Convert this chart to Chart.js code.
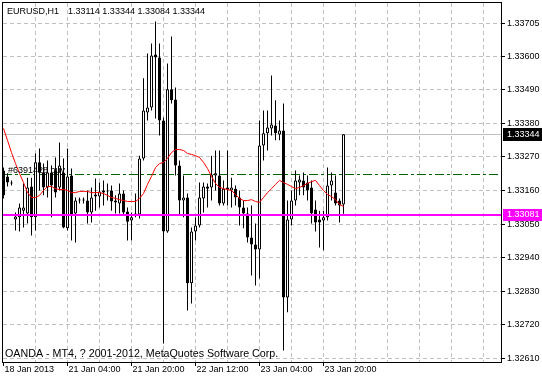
<!DOCTYPE html>
<html><head><meta charset="utf-8">
<script src="https://cdn.jsdelivr.net/npm/chart.js@4.4.1/dist/chart.umd.min.js"></script>
<style>html,body{margin:0;padding:0;background:#fff}canvas{display:block}</style>
</head><body>
<canvas id="c" width="542" height="379"></canvas>
<script>
const symbolText = 'EURUSD,H1';
const lastBarText = '1.33114 1.33344 1.33084 1.33344';
const footerText = 'OANDA - MT4, ? 2001-2012, MetaQuotes Software Corp.';
const orderLabel = '#6391428 buy';

const openP = [
1.33225,1.33206,1.33186,1.33065,1.33072,1.33094,1.33085,1.33173,1.33072,1.33252,
1.33219,1.33170,1.33219,1.33225,1.33170,1.33219,1.33036,1.33209,1.33085,1.33127,
1.33127,1.33127,1.33088,1.33147,1.33140,1.33160,1.33157,1.33160,1.33127,1.33117,
1.33150,1.33091,1.33062,1.33078,1.33081,1.33265,1.33415,1.33432,1.33605,1.33595,
1.33389,1.33026,1.33491,1.33458,1.33242,1.33127,1.33137,1.32856,1.33026,1.33045,
1.33134,1.33173,1.33170,1.33209,1.33209,1.33117,1.33170,1.33160,1.33166,1.33137,
1.33104,1.33085,1.33006,1.32983,1.32967,1.33307,1.33347,1.33363,1.33373,1.33343,
1.33356,1.32810,1.33065,1.33127,1.33186,1.33193,1.33186,1.33170,1.33098,1.33065,
1.33062,1.33072,1.33176,1.33153,1.33127,1.33114];
const highP = [
1.33235,1.33216,1.33193,1.33088,1.33117,1.33183,1.33202,1.33202,1.33281,1.33297,
1.33248,1.33258,1.33242,1.33268,1.33317,1.33265,1.33297,1.33232,1.33137,1.33137,
1.33137,1.33160,1.33170,1.33199,1.33186,1.33193,1.33183,1.33176,1.33144,1.33183,
1.33160,1.33104,1.33088,1.33150,1.33274,1.33527,1.33608,1.33641,1.33713,1.33641,
1.33399,1.33576,1.33664,1.33497,1.33258,1.33209,1.33150,1.33039,1.33072,1.33186,
1.33186,1.33183,1.33274,1.33291,1.33291,1.33193,1.33291,1.33202,1.33176,1.33160,
1.33127,1.33104,1.33111,1.33052,1.33389,1.33422,1.33422,1.33536,1.33455,1.33389,
1.33445,1.33127,1.33160,1.33225,1.33209,1.33219,1.33209,1.33193,1.33127,1.33094,
1.33094,1.33235,1.33219,1.33209,1.33134,1.33344];
const lowP = [
1.33134,1.33173,1.33176,1.33029,1.33026,1.33039,1.33052,1.33013,1.33029,1.33160,
1.33144,1.33137,1.33072,1.33137,1.33160,1.33036,1.33029,1.32996,1.32990,1.33117,
1.33117,1.33052,1.33055,1.33094,1.33104,1.33111,1.33127,1.33094,1.33085,1.33085,
1.33078,1.32996,1.32996,1.33072,1.33068,1.33258,1.33389,1.33422,1.33396,1.33340,
1.32659,1.33022,1.33445,1.33209,1.33078,1.33072,1.32767,1.32790,1.32996,1.33039,
1.33088,1.33104,1.33127,1.33160,1.33111,1.33111,1.33111,1.33104,1.33111,1.33045,
1.33036,1.32990,1.32882,1.32849,1.32872,1.33258,1.33291,1.33340,1.33324,1.33324,
1.32636,1.32761,1.33045,1.33111,1.33144,1.33144,1.33127,1.33052,1.33026,1.32973,
1.32964,1.33062,1.33127,1.33111,1.33055,1.33084];
const closeP = [
1.33144,1.33186,1.33183,1.33075,1.33104,1.33104,1.33170,1.33072,1.33252,1.33219,
1.33170,1.33219,1.33176,1.33153,1.33242,1.33039,1.33206,1.33081,1.33127,1.33127,
1.33127,1.33088,1.33137,1.33140,1.33157,1.33153,1.33157,1.33124,1.33121,1.33150,
1.33088,1.33058,1.33072,1.33085,1.33265,1.33422,1.33432,1.33602,1.33595,1.33389,
1.33026,1.33491,1.33455,1.33242,1.33127,1.33137,1.32856,1.33026,1.33045,1.33137,
1.33173,1.33166,1.33212,1.33216,1.33117,1.33166,1.33163,1.33170,1.33137,1.33104,
1.33085,1.33006,1.32983,1.32967,1.33307,1.33347,1.33366,1.33376,1.33347,1.33356,
1.32810,1.33065,1.33127,1.33193,1.33196,1.33170,1.33160,1.33085,1.33055,1.33055,
1.33072,1.33176,1.33193,1.33117,1.33111,1.33344];
const maP = [
1.33363,1.33324,1.33284,1.33248,1.33216,1.33186,1.33153,1.33137,1.33137,1.33144,
1.33160,1.33173,1.33173,1.33166,1.33163,1.33163,1.33160,1.33153,1.33153,1.33157,
1.33157,1.33157,1.33153,1.33153,1.33153,1.33150,1.33144,1.33137,1.33134,1.33130,
1.33127,1.33124,1.33124,1.33124,1.33134,1.33150,1.33180,1.33206,1.33235,1.33248,
1.33252,1.33265,1.33284,1.33294,1.33294,1.33291,1.33281,1.33278,1.33274,1.33268,
1.33252,1.33232,1.33206,1.33183,1.33170,1.33166,1.33163,1.33160,1.33147,1.33134,
1.33127,1.33127,1.33130,1.33124,1.33121,1.33137,1.33153,1.33166,1.33180,1.33193,
1.33186,1.33180,1.33173,1.33166,1.33170,1.33176,1.33183,1.33189,1.33193,1.33176,
1.33160,1.33147,1.33140,1.33130,1.33114,1.33108];

const bidPrice = 1.33344;
const linePrice = 1.33081;
const orderPrice = 1.33212;
const yTickValues = [1.33705,1.33600,1.33490,1.33380,1.33270,1.33160,1.33050,1.32940,1.32830,1.32720,1.32610];
const xGridBars = [0,8,16,24,32,40,48,56,64,72,80,88,96,104,112,120];
const xTickBars = [0,16,32,48,64,80];
const xTickLabels = ['18 Jan 2013','21 Jan 04:00','21 Jan 20:00','22 Jan 12:00','23 Jan 04:00','23 Jan 20:00'];

const FONT = '"Liberation Sans", Arial, sans-serif';
const FS = 9;
const GRID = '#c0c0c0';
const X_MIN = -0.125, X_MAX = 124.375;
const Y_MIN = 1.3259854, Y_MAX = 1.3377367;

const idx = openP.map((_, i) => i);
const wickData = idx.map(i => ({x: i, y: [lowP[i], highP[i]]}));
const bodyData = idx.map(i => ({x: i, y: [Math.min(openP[i], closeP[i]), Math.max(openP[i], closeP[i])]}));
const bodyColors = idx.map(i => closeP[i] >= openP[i] ? '#ffffff' : '#000000');
const maData = idx.map(i => ({x: i, y: maP[i]}));

const mtPlugin = {
  id: 'mt4',
  beforeDatasetsDraw(chart) {
    const {ctx, chartArea: a, scales: {y}} = chart;
    ctx.save();
    const yb = Math.floor(y.getPixelForValue(bidPrice));
    ctx.fillStyle = '#c0c0c0';
    ctx.fillRect(a.left, yb, a.right - a.left, 1);
    const yo = Math.floor(y.getPixelForValue(orderPrice)) + 0.5;
    ctx.strokeStyle = '#006400'; ctx.lineWidth = 1;
    ctx.setLineDash([9, 3, 3, 3]);
    ctx.beginPath(); ctx.moveTo(a.left, yo); ctx.lineTo(a.right, yo); ctx.stroke();
    ctx.restore();
  },
  afterDatasetsDraw(chart) {
    const {ctx, chartArea: a, scales: {y}} = chart;
    ctx.save();
    const yl = Math.floor(y.getPixelForValue(linePrice));
    ctx.fillStyle = '#ff00ff';
    ctx.fillRect(a.left, yl, a.right - a.left, 2);
    const yo = Math.floor(y.getPixelForValue(orderPrice));
    ctx.fillStyle = '#000';
    ctx.font = FS + 'px ' + FONT;
    ctx.textBaseline = 'alphabetic';
    ctx.fillText(orderLabel, a.left + 5, yo - 1);
    ctx.restore();
  },
  afterDraw(chart) {
    const {ctx, chartArea: a, scales: {y}} = chart;
    ctx.save();
    ctx.fillStyle = '#000';
    ctx.fillRect(a.left - 1, a.top - 1, a.right - a.left + 2, 1);
    ctx.fillRect(a.left - 1, a.top - 1, 1, a.bottom - a.top + 2);
    ctx.textBaseline = 'middle';
    ctx.textAlign = 'left';
    ctx.font = FS + 'px ' + FONT;
    ctx.fillText(symbolText, 7, 12);
    ctx.fillText(lastBarText, 68, 12);
    ctx.font = '10.7px ' + FONT;
    ctx.fillText(footerText, 5, 354);
    ctx.font = FS + 'px ' + FONT;
    const yb = Math.floor(y.getPixelForValue(bidPrice));
    ctx.fillStyle = '#000';
    ctx.fillRect(a.right + 2, yb - 6, 542 - a.right - 2, 13);
    ctx.fillStyle = '#fff';
    ctx.fillText(bidPrice.toFixed(5), a.right + 6, yb + 1);
    const yl = Math.floor(y.getPixelForValue(linePrice));
    ctx.fillStyle = '#ff00ff';
    ctx.fillRect(a.right + 2, yl - 5, 542 - a.right - 2, 12);
    ctx.fillStyle = '#fff';
    ctx.fillText(linePrice.toFixed(5), a.right + 6, yl + 1);
    ctx.restore();
  }
};

Chart.defaults.font.family = FONT;
Chart.defaults.font.size = FS;
Chart.defaults.color = '#000';

new Chart(document.getElementById('c'), {
  type: 'bar',
  data: {
    datasets: [
      {type: 'line', data: maData, borderColor: '#ff0000', borderWidth: 1, pointRadius: 0, tension: 0, fill: false, order: 0},
      {type: 'bar', data: bodyData, backgroundColor: bodyColors, borderColor: '#000', borderWidth: 1, borderSkipped: false,
       barThickness: 3, grouped: false, minBarLength: 1, inflateAmount: 0, order: 1},
      {type: 'bar', data: wickData, backgroundColor: '#000', borderWidth: 0, barThickness: 1, grouped: false, inflateAmount: 0, order: 2}
    ]
  },
  options: {
    responsive: false,
    animation: false,
    devicePixelRatio: 1,
    events: [],
    layout: {padding: {top: 3, left: 3, right: 0, bottom: 0}},
    plugins: {legend: {display: false}, tooltip: {enabled: false}, title: {display: false}},
    scales: {
      x: {
        type: 'linear', min: X_MIN, max: X_MAX, offset: false,
        afterBuildTicks: s => { s.ticks = xGridBars.map(v => ({value: v})); },
        afterFit: s => { s.height = 17; s.paddingLeft = 0; s.paddingRight = 0; },
        grid: {
          offset: false, lineWidth: 1, drawTicks: true, tickLength: 4, tickWidth: 1,
          color: c => (c.tick && c.tick.value > 0) ? GRID : 'rgba(0,0,0,0)',
          tickColor: c => (c.tick && xTickBars.includes(c.tick.value)) ? '#000' : 'rgba(0,0,0,0)'
        },
        border: {display: true, color: '#000', width: 1, dash: [4, 3]},
        ticks: {
          autoSkip: false, maxRotation: 0, minRotation: 0, align: 'start', padding: -2, labelOffset: 1,
          color: '#000', font: {family: FONT, size: FS},
          callback: v => { const k = xTickBars.indexOf(v); return k >= 0 ? xTickLabels[k] : ''; }
        }
      },
      y: {
        type: 'linear', position: 'right', min: Y_MIN, max: Y_MAX, beginAtZero: false,
        afterBuildTicks: s => { s.ticks = yTickValues.map(v => ({value: v})); },
        afterFit: s => { s.width = 41; s.paddingTop = 0; s.paddingBottom = 0; },
        grid: {color: GRID, lineWidth: 1, tickColor: '#000', tickLength: 4, tickWidth: 1},
        border: {display: true, color: '#000', width: 1, dash: [4, 3]},
        ticks: {padding: 2, color: '#000', font: {family: FONT, size: FS}, callback: v => Number(v).toFixed(5)}
      }
    }
  },
  plugins: [mtPlugin]
});
</script>
</body></html>
